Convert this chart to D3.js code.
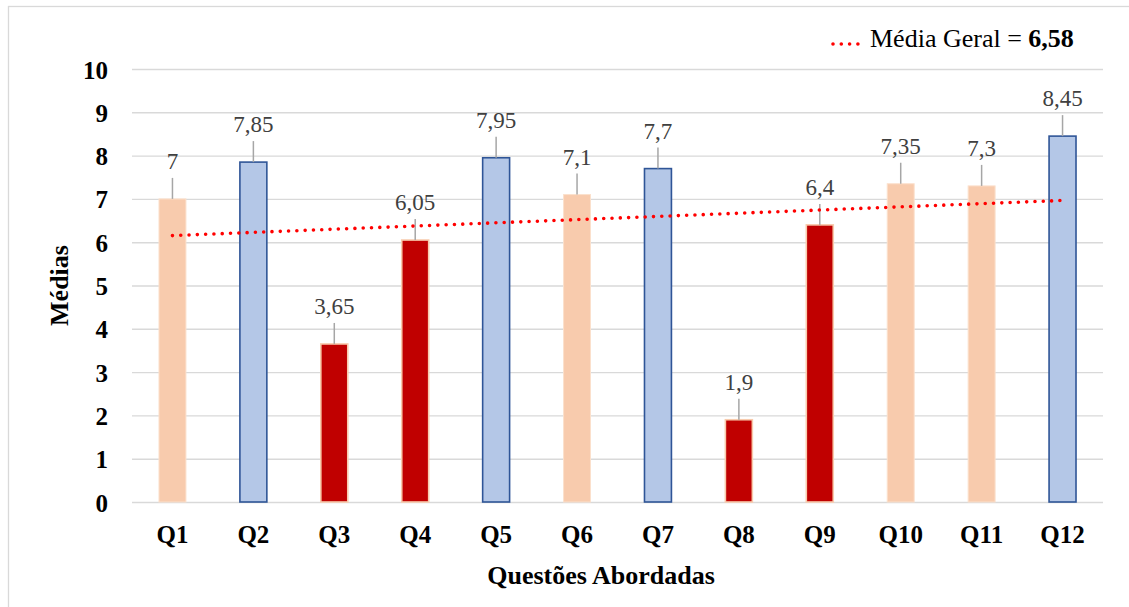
<!DOCTYPE html>
<html>
<head>
<meta charset="utf-8">
<script src="https://cdn.jsdelivr.net/npm/d3@7"></script>
<style>
  html, body { margin: 0; padding: 0; background: #ffffff; }
  svg { display: block; }
</style>
</head>
<body>
<svg id="chart" width="1129" height="607"></svg>
<script>
// Questões avaliadas e média obtida em cada uma
const questoes = ["Q1", "Q2", "Q3", "Q4", "Q5", "Q6", "Q7", "Q8", "Q9", "Q10", "Q11", "Q12"];
const medias = [7, 7.85, 3.65, 6.05, 7.95, 7.1, 7.7, 1.9, 6.4, 7.35, 7.3, 8.45];
// Faixa de desempenho de cada questão (define a cor da barra)
const faixas = ["media", "alta", "baixa", "baixa", "alta", "media", "alta", "baixa", "baixa", "media", "media", "alta"];
const yTicks = [0, 1, 2, 3, 4, 5, 6, 7, 8, 9, 10];
const mediaGeral = 6.58;

const FONTE = "Liberation Serif";

const estilos = {
  alta:  { fill: "#B4C7E7", stroke: "#2F5597", sw: 1.6 },
  media: { fill: "#F8CBAD", stroke: "#FBE0CC", sw: 1.0 },
  baixa: { fill: "#C00000", stroke: "#F8CBAD", sw: 1.6 }
};

const fmt = v => String(v).replace(".", ",");

const svg = d3.select("#chart");
const W = 1129, H = 607;
const m = { left: 132, right: 26, top: 69, bottom: 105 };
const pw = W - m.left - m.right;
const ph = H - m.top - m.bottom;

// Moldura do gráfico
svg.append("rect")
  .attr("x", 8.5).attr("y", 6.5)
  .attr("width", W + 20).attr("height", H + 20)
  .attr("fill", "none").attr("stroke", "#D9D9D9").attr("stroke-width", 1.3);

const g = svg.append("g").attr("transform", `translate(${m.left},${m.top})`);

const x = d3.scaleBand().domain(questoes).range([0, pw])
  .paddingInner(0.667).paddingOuter(0.3335);
const y = d3.scaleLinear().domain([0, 10]).range([ph, 0]);

// Eixo Y com linhas de grade
const yAxis = g.append("g")
  .call(d3.axisLeft(y).tickValues(yTicks).tickSize(-pw).tickPadding(24).tickFormat(d3.format("d")));
yAxis.attr("font-family", null);
yAxis.select(".domain").remove();
yAxis.selectAll(".tick line").attr("stroke", "#D9D9D9").attr("stroke-width", 1.4);
yAxis.selectAll(".tick text")
  .attr("fill", "#000").attr("font-size", 25).attr("font-weight", "bold")
  .style("font-family", FONTE).attr("dy", "0.36em");

// Eixo X
const xAxis = g.append("g").attr("transform", `translate(0,${ph})`)
  .call(d3.axisBottom(x).tickSize(0).tickPadding(0));
xAxis.attr("font-family", null);
xAxis.select(".domain").remove();
xAxis.selectAll(".tick text")
  .attr("fill", "#000").attr("font-size", 25).attr("font-weight", "bold")
  .style("font-family", FONTE)
  .attr("y", 41).attr("dy", 0);

// Barras
g.selectAll("rect.bar")
  .data(questoes)
  .join("rect")
  .attr("class", "bar")
  .attr("x", q => x(q))
  .attr("width", x.bandwidth())
  .attr("y", (q, i) => y(medias[i]))
  .attr("height", (q, i) => y(0) - y(medias[i]))
  .attr("fill", (q, i) => estilos[faixas[i]].fill)
  .attr("stroke", (q, i) => estilos[faixas[i]].stroke)
  .attr("stroke-width", (q, i) => estilos[faixas[i]].sw);

// Rótulos de valor com linhas de chamada
const gap = 30;
const rotulos = g.selectAll("g.rotulo")
  .data(questoes)
  .join("g")
  .attr("class", "rotulo")
  .attr("transform", q => `translate(${x(q) + x.bandwidth() / 2},0)`);
rotulos.append("line")
  .attr("y1", (q, i) => y(medias[i]) - gap + 9)
  .attr("y2", (q, i) => y(medias[i]))
  .attr("stroke", "#A6A6A6").attr("stroke-width", 1.5);
rotulos.append("text")
  .attr("y", (q, i) => y(medias[i]) - gap)
  .attr("text-anchor", "middle")
  .attr("font-size", 23)
  .style("font-family", FONTE)
  .attr("fill", "#404040")
  .text((q, i) => fmt(medias[i]));

// Linha de tendência linear (mínimos quadrados) sobre as médias
const xs = medias.map((v, i) => i + 1);
const mx = d3.mean(xs), my = d3.mean(medias);
const slope = d3.sum(xs, (xi, i) => (xi - mx) * (medias[i] - my)) / d3.sum(xs, xi => (xi - mx) ** 2);
const intercept = my - slope * mx;
const tendencia = [1, questoes.length].map(k => [x(questoes[k - 1]) + x.bandwidth() / 2, y(intercept + slope * k)]);
g.append("path")
  .attr("d", d3.line()(tendencia))
  .attr("fill", "none")
  .attr("stroke", "#FF0000")
  .attr("stroke-width", 3.6)
  .attr("stroke-linecap", "round")
  .attr("stroke-dasharray", "0 8.3");

// Títulos dos eixos
svg.append("text")
  .attr("x", 601).attr("y", 584)
  .attr("text-anchor", "middle")
  .attr("font-size", 26).attr("font-weight", "bold")
  .style("font-family", FONTE)
  .text("Questões Abordadas");
svg.append("text")
  .attr("transform", `translate(68,${m.top + ph / 2}) rotate(-90)`)
  .attr("text-anchor", "middle")
  .attr("font-size", 26).attr("font-weight", "bold")
  .style("font-family", FONTE)
  .text("Médias");

// Legenda
const leg = svg.append("g").attr("transform", "translate(833,44)");
leg.append("line")
  .attr("x1", 0).attr("x2", 25).attr("y1", 0).attr("y2", 0)
  .attr("stroke", "#FF0000").attr("stroke-width", 3.6)
  .attr("stroke-linecap", "round").attr("stroke-dasharray", "0 8.3");
const legText = leg.append("text").attr("x", 37).attr("y", 3)
  .attr("font-size", 26).attr("fill", "#000")
  .style("font-family", FONTE);
legText.append("tspan").text("Média Geral = ");
legText.append("tspan").attr("font-weight", "bold").text(fmt(mediaGeral.toFixed(2)));
</script>
</body>
</html>
